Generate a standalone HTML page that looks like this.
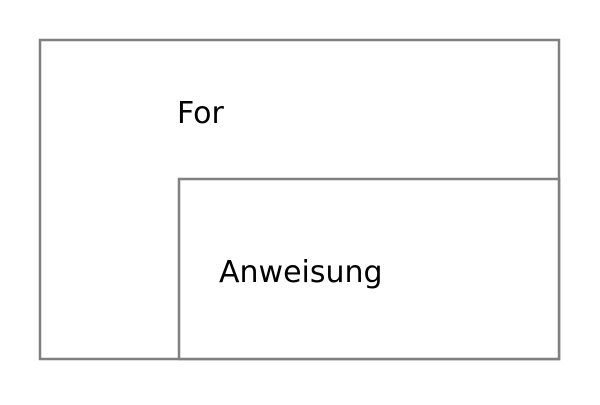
<!DOCTYPE html>
<html><head><style>html,body{margin:0;padding:0;background:#fff;}</style></head>
<body>
<svg width="600" height="400" xmlns="http://www.w3.org/2000/svg">
<rect x="40" y="40" width="519" height="319" fill="#fff" stroke="#808080" stroke-width="2.5"/>
<rect x="179" y="179" width="380" height="180" fill="#fff" stroke="#808080" stroke-width="2.5"/>
<text x="177" y="123" font-family="DejaVu Sans, sans-serif" font-size="30" fill="#000">For</text>
<text x="219" y="282" font-family="DejaVu Sans, sans-serif" font-size="30" fill="#000">Anweisung</text>
</svg>
</body></html>
